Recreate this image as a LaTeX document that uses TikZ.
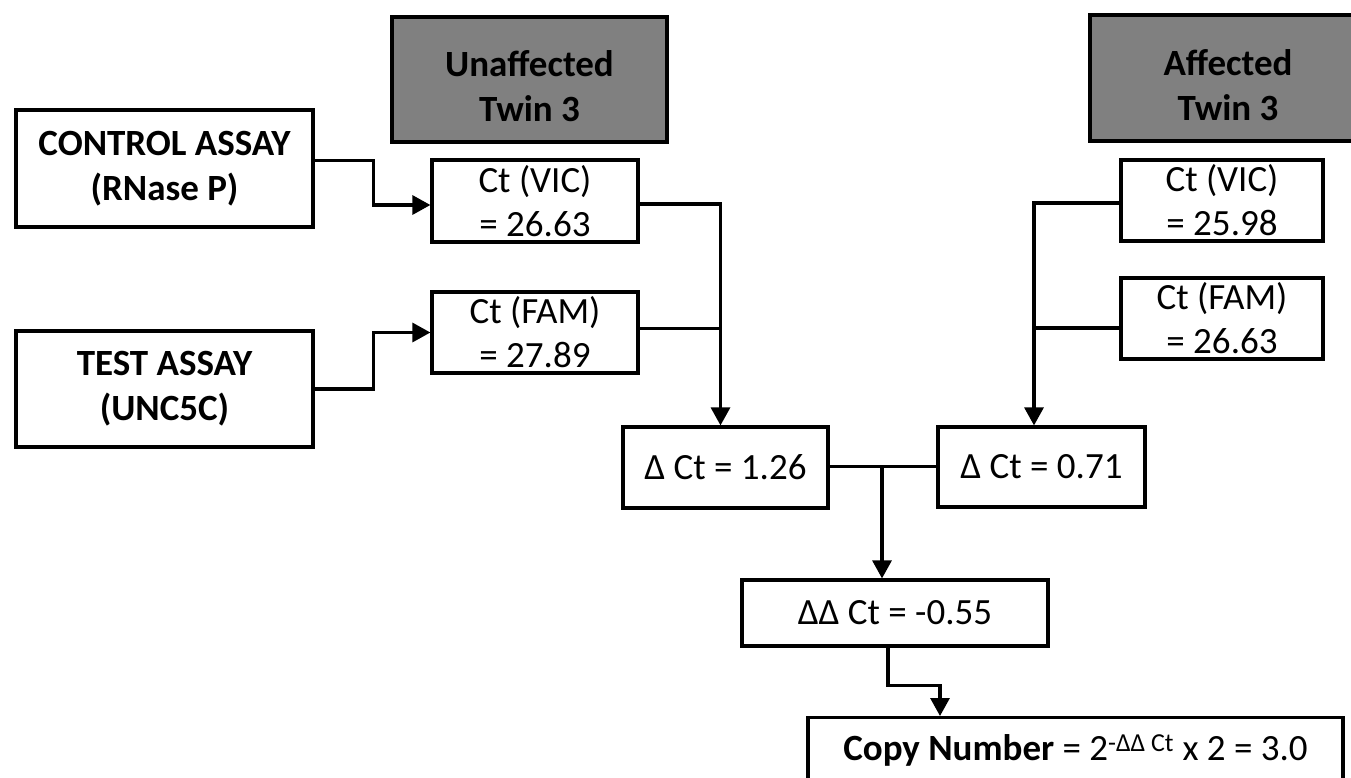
\documentclass[tikz,border=0pt]{standalone}
\usepackage{fontspec}
\setmainfont{Carlito}
\usetikzlibrary{arrows.meta,calc}
\definecolor{boxgray}{RGB}{128,128,128}
\begin{document}
\begin{tikzpicture}[x=1pt,y=-1pt,
  box/.style={draw=black,line width=3.2pt,fill=white,align=center,inner sep=0pt,
    font=\fontsize{37}{44}\selectfont},
  titlebox/.style={box,fill=boxgray,font=\bfseries\fontsize{37}{45}\selectfont},
  assay/.style={box,font=\bfseries\fontsize{37}{45}\selectfont},
  conn/.style={line width=3.2pt},
  arr/.style={conn,-{Triangle[length=18pt,width=19pt]}}]
\useasboundingbox[fill=white] (0,0) rectangle (1351,777);
% header boxes
\node[titlebox,minimum width=275pt,minimum height=125pt] (unaff) at (529.5,79.5) {\rule{0pt}{40pt}Unaffected\\Twin 3};
\node[titlebox,minimum width=276pt,minimum height=126pt] (aff) at (1228,78) {\rule{0pt}{40pt}Affected\\Twin 3};
% assays
\node[assay,minimum width=297pt,minimum height=117pt] (ctrl) at (164.5,168.5) {CONTROL ASSAY\\(RNase P)};
\node[assay,minimum width=297pt,minimum height=116pt] (test) at (164.5,389) {TEST ASSAY\\(UNC5C)};
% Ct values
\node[box,minimum width=206pt,minimum height=82pt] (vicL) at (535,201) {Ct (VIC)\\= 26.63};
\node[box,minimum width=206pt,minimum height=81pt] (famL) at (535,332.5) {Ct (FAM)\\= 27.89};
\node[box,minimum width=202pt,minimum height=81pt] (vicR) at (1222,200.5) {Ct (VIC)\\= 25.98};
\node[box,minimum width=202pt,minimum height=81pt] (famR) at (1222,318.5) {Ct (FAM)\\= 26.63};
% delta Ct
\node[box,minimum width=205pt,minimum height=81pt] (dL) at (725.5,467.5) {Δ Ct = 1.26};
\node[box,minimum width=207pt,minimum height=80pt] (dR) at (1041.5,467) {Δ Ct = 0.71};
\node[box,minimum width=306pt,minimum height=66pt] (dd) at (895,613) {ΔΔ Ct = -0.55};
\node[box,minimum width=535pt,anchor=north,inner ysep=17pt,text depth=40pt] (cn) at (1075.5,716)
  {\textbf{Copy Number} = 2\textsuperscript{-ΔΔ Ct} x 2 = 3.0};
% junction coordinates
\coordinate (jL) at ([xshift=-5pt]dL.north);
\coordinate (jR) at ([xshift=-7.5pt]dR.north);
\coordinate (jD) at ([xshift=-13pt]dd.north);
% connectors
\draw[arr] ([yshift=8pt]ctrl.east) -- ++(59pt,0) |- ([yshift=-4pt]vicL.west);
\draw[arr] (test.east) -- ++(59pt,0) |- (famL.west);
\draw[arr] ([yshift=-3pt]vicL.east) -| (jL);
\draw[conn] ([yshift=4pt]famL.east) coordinate (f1) -- (f1 -| jL);
\draw[arr] ([yshift=-2.5pt]vicR.west) -| (jR);
\draw[conn] ([yshift=-9.5pt]famR.west) coordinate (f2) -- (f2 -| jR);
\draw[conn] ([yshift=1pt]dL.east) coordinate (d1) -- (d1 -| dR.west);
\draw[arr] (d1 -| jD) -- (jD);
\draw[arr] ([xshift=-7pt]dd.south) -- ++(0,-38pt) -| ([xshift=-135.5pt]cn.north);
\end{tikzpicture}
\end{document}
